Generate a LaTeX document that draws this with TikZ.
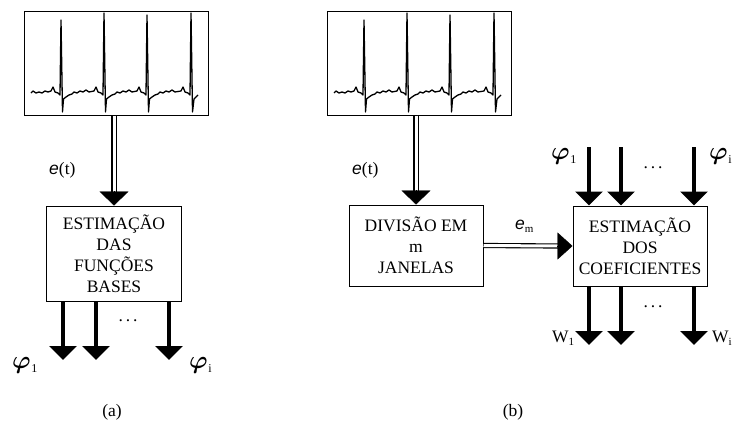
\documentclass[tikz,border=0pt]{standalone}
\usepackage{amsmath,bm}
\usepackage{fontspec}
\setmainfont{Liberation Serif}
\setsansfont{Liberation Sans}
\usetikzlibrary{arrows.meta,calc}
\newcommand{\phisub}[1]{$\bm{\varphi}$\kern0.5pt\raisebox{-4pt}{\fontsize{12}{12}\selectfont #1}}
\newcommand{\wsub}[1]{W\raisebox{-3pt}{\fontsize{11}{11}\selectfont #1}}
\newcommand{\esig}{\textsf{\textit{e}}}
% ECG trace inside a monitor box, shifted by #1
\newcommand{\ecgtrace}[1]{%
  \begin{scope}[xshift=#1]
  \draw[ecgline] (31,93) -- (33,91) -- (36,93) -- (39,92) -- (42,93) -- (45,91) -- (48,92)
    \foreach \p/\t in {61/20,104/13,147/15}{
      -- (\p-10,91) -- (\p-8,87) -- (\p-6,92) -- (\p-3,93) -- (\p-1,95) -- (\p,\t) -- (\p+1.5,112)
      -- (\p+2.5,99) -- (\p+5,97) -- (\p+8,95) -- (\p+11,94) -- (\p+13,92) -- (\p+16,93)
      -- (\p+19,91) -- (\p+22,92) -- (\p+25,90) -- (\p+28,92)}
    -- (181,91) -- (183,87) -- (185,92) -- (188,93) -- (190,95) -- (191,13) -- (192.5,112)
    -- (194,99) -- (196,97) -- (198,95);
  \end{scope}}

\begin{document}
\begin{tikzpicture}[x=1pt,y=-1pt,
  blk/.style={draw,line width=1pt,inner sep=0pt,align=center,font=\fontsize{17.5}{21}\selectfont},
  ecgline/.style={line width=1.3pt,line join=round},
  dbl/.style={double,line width=1.1pt,double distance=3pt},
  dblhead/.style={line width=0.4pt,-{Triangle[width=29pt,length=14pt]}},
  outarr/.style={line width=3.5pt,-{Triangle[width=27pt,length=14pt]}},
  philbl/.style={inner sep=0pt,anchor=west,font=\fontsize{34}{34}\selectfont},
  lbl/.style={inner sep=0pt,font=\fontsize{17.5}{17.5}\selectfont}]
  \useasboundingbox (0,0) rectangle (734,423);
  % (a) estimation of the basis functions
  \node[blk,minimum width=184pt,minimum height=104pt] (ecgA) at (116,63) {};
  \ecgtrace{0pt}
  \node[blk,minimum width=135pt,minimum height=95pt] (estA) at (114,253.5) {ESTIMAÇÃO\\DAS\\FUNÇÕES\\BASES};
  \draw[dbl] (ecgA.south -| estA.north) -- ([yshift=13pt]estA.north);
  \draw[dblhead] ([yshift=14.5pt]estA.north) -- (estA.north);
  \node[lbl,anchor=west] (etA) at (49,170) {\esig(t)};
  \coordinate (phA1) at (63,360);
  \coordinate (phA2) at (96,360);
  \coordinate (phAi) at (169,360);
  \foreach \c in {phA1,phA2,phAi}
    \draw[outarr] (estA.south -| \c) -- (\c);
  \node[lbl] (dotsA) at (128,321) {.\,.\,.};
  \node[philbl] (lphA1) at (12,365) {\phisub{1}};
  \node[philbl] (lphAi) at (189,365) {\phisub{i}};
  \node[lbl] (capA) at (112,412) {(a)};
  % (b) windows and coefficients
  \node[blk,minimum width=184pt,minimum height=104pt] (ecgB) at (419,63) {};
  \ecgtrace{303pt}
  \node[blk,minimum width=134pt,minimum height=81pt] (divB) at (416,245.5) {DIVISÃO EM\\m\\JANELAS};
  \node[blk,minimum width=134pt,minimum height=80pt] (coefB) at (640,246) {ESTIMAÇÃO\\DOS\\COEFICIENTES};
  \draw[dbl] (ecgB.south -| divB.north) -- ([yshift=13pt]divB.north);
  \draw[dblhead] ([yshift=14.5pt]divB.north) -- (divB.north);
  \node[lbl,anchor=west] (etB) at (352,170) {\esig(t)};
  \draw[dbl] (divB.east) -- ([xshift=-14pt]coefB.west);
  \draw[line width=0.4pt,-{Triangle[width=27pt,length=15pt]}] ([xshift=-15.5pt]coefB.west) -- (coefB.west);
  \node[lbl,anchor=west] (emB) at (515,226) {\esig\raisebox{-3pt}{\fontsize{11}{11}\selectfont m}};
  \coordinate (phB1) at (589,147);
  \coordinate (phB2) at (621,147);
  \coordinate (phBi) at (694,147);
  \foreach \c in {phB1,phB2,phBi}
    \draw[outarr] (\c) -- (coefB.north -| \c);
  \coordinate (wB1) at (589,345);
  \coordinate (wB2) at (621,345);
  \coordinate (wBi) at (694,345);
  \foreach \c in {wB1,wB2,wBi}
    \draw[outarr] (coefB.south -| \c) -- (\c);
  \node[lbl] (dotsB1) at (653,168) {.\,.\,.};
  \node[lbl] (dotsB2) at (653,307) {.\,.\,.};
  \node[philbl] (lphB1) at (551,156) {\phisub{1}};
  \node[philbl] (lphBi) at (709,156) {\phisub{i}};
  \node[lbl,anchor=west] (lwB1) at (552,338) {\wsub{1}};
  \node[lbl,anchor=west] (lwBi) at (712,338) {\wsub{i}};
  \node[lbl] (capB) at (513,412) {(b)};
\end{tikzpicture}
\end{document}
